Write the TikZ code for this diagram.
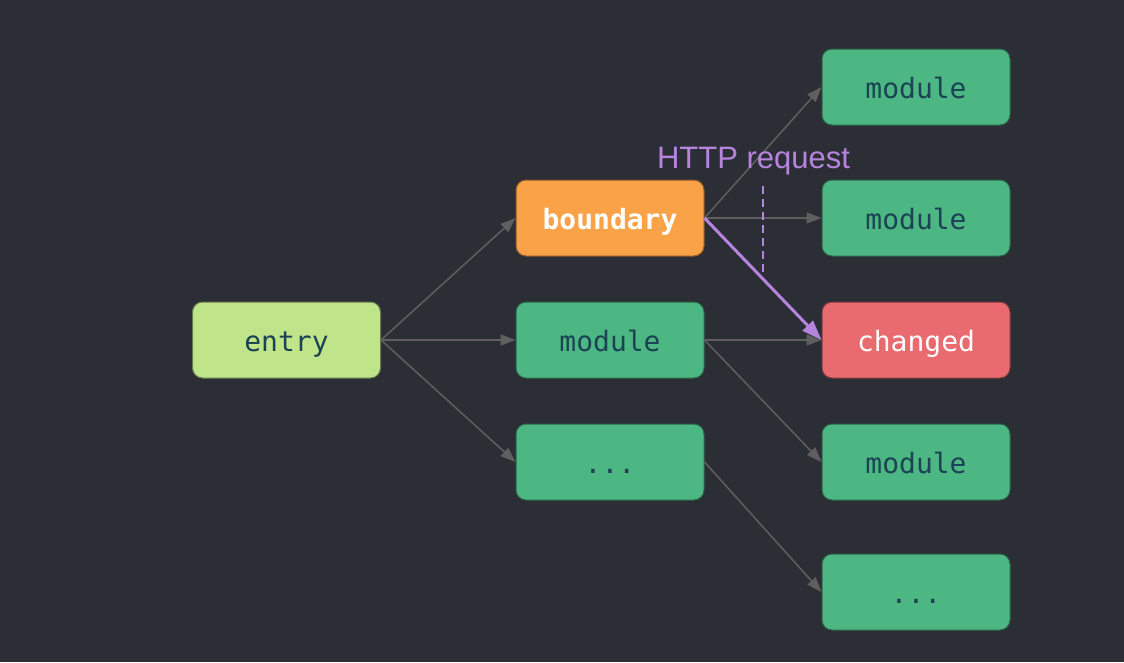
\documentclass[tikz,border=0pt]{standalone}
\usepackage{fontspec}
\setmainfont{Liberation Sans}
\setmonofont{DejaVu Sans Mono}
\usetikzlibrary{arrows.meta}
\definecolor{bg}{HTML}{2C2E36}
\definecolor{lime}{HTML}{BFE48A}
\definecolor{modgreen}{HTML}{4DB783}
\definecolor{orng}{HTML}{F9A248}
\definecolor{redc}{HTML}{E96A6F}
\definecolor{txtdark}{HTML}{1B4354}
\definecolor{edgegray}{HTML}{5F5F5F}
\definecolor{purp}{HTML}{B784DD}
\tikzset{
  box/.style={rectangle, rounded corners=10pt, minimum width=188pt, minimum height=76pt, inner sep=0pt, text height=22pt, text depth=0pt, line width=1pt, font=\ttfamily\fontsize{28}{30}\selectfont, text=txtdark},
  entrybox/.style={box, fill=lime, draw=lime!55!black},
  modbox/.style={box, fill=modgreen, draw=modgreen!55!black},
  bndbox/.style={box, fill=orng, draw=orng!55!black, text=white, font=\ttfamily\bfseries\fontsize{28}{30}\selectfont},
  chgbox/.style={box, fill=redc, draw=redc!55!black, text=white},
  edge/.style={draw=edgegray, line width=1.5pt, -{Triangle[length=15pt,width=11pt]}},
  req/.style={draw=purp, line width=3pt, -{Triangle[length=20pt,width=14pt]}},
  reqdash/.style={draw=purp, line width=2pt, dash pattern=on 8pt off 5pt},
  reqlabel/.style={text=purp, font=\fontsize{31}{34}\selectfont, inner sep=0pt, anchor=base}
}
\begin{document}
\begin{tikzpicture}[x=1pt,y=-1pt]
\fill[bg] (0,0) rectangle (1124,662);
\useasboundingbox (0,0) rectangle (1124,662);
\node[entrybox] (entry) at (286.5,340) {entry};
\node[bndbox] (bnd) at (610,218) {boundary};
\node[modbox] (m2) at (610,340) {module};
\node[modbox] (d2) at (610,462) {...};
\node[modbox] (r1) at (916,87) {module};
\node[modbox] (r2) at (916,218) {module};
\node[chgbox] (chg) at (916,340) {changed};
\node[modbox] (r4) at (916,462) {module};
\node[modbox] (r5) at (916,592) {...};
\draw[edge] (entry.east) -- (bnd.west);
\draw[edge] (entry.east) -- (m2.west);
\draw[edge] (entry.east) -- (d2.west);
\draw[edge] (bnd.east) -- (r1.west);
\draw[edge] (bnd.east) -- (r2.west);
\draw[edge] (m2.east) -- (chg.west);
\draw[edge] (m2.east) -- (r4.west);
\draw[edge] (d2.east) -- (r5.west);
\draw[req] (bnd.east) -- (chg.west);
\coordinate (dtop) at (763,186);
\coordinate (dbot) at (763,275);
\draw[reqdash] (dtop) -- (dbot);
\node[reqlabel] (http) at (753.5,168) {HTTP request};
\end{tikzpicture}
\end{document}
